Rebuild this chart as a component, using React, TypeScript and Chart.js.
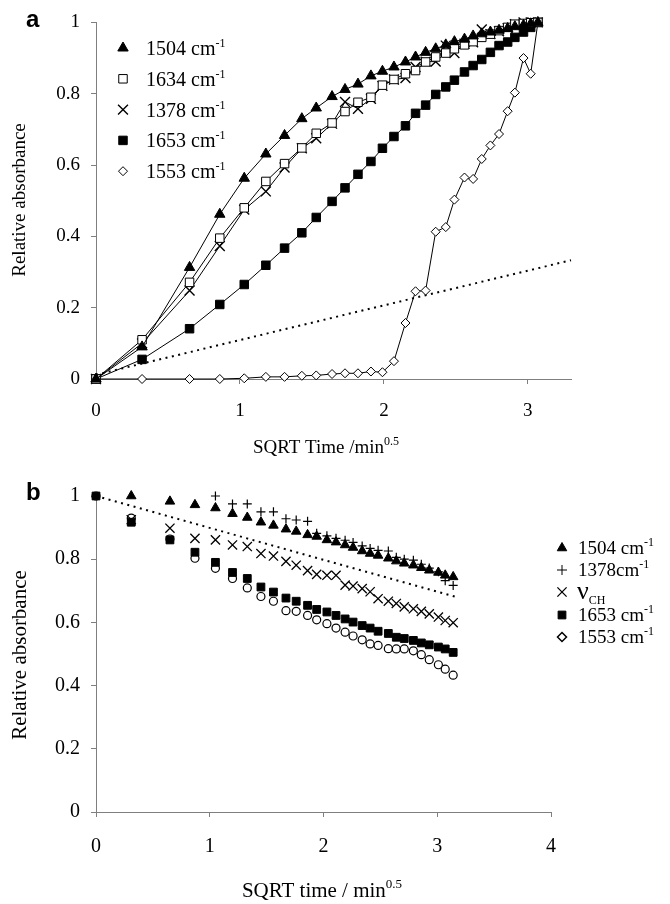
import React, { useEffect, useRef } from "react";
import { Chart, registerables } from "chart.js";
Chart.register(...registerables);

// ---------- Panel a data ----------
const xA = [0, 0.32, 0.65, 0.86, 1.03, 1.18, 1.31, 1.43, 1.53, 1.64, 1.73, 1.82, 1.91, 1.99, 2.07, 2.15, 2.22, 2.29, 2.36, 2.43, 2.49, 2.56, 2.62, 2.68, 2.74, 2.80, 2.86, 2.91, 2.97, 3.02, 3.07];
const a1504 = [0, 0.09, 0.313, 0.462, 0.563, 0.631, 0.683, 0.73, 0.76, 0.792, 0.812, 0.827, 0.85, 0.863, 0.875, 0.889, 0.903, 0.916, 0.926, 0.937, 0.946, 0.953, 0.962, 0.968, 0.973, 0.978, 0.983, 0.988, 0.992, 0.996, 1.0];
const a1634 = [0, 0.11, 0.271, 0.395, 0.48, 0.554, 0.604, 0.648, 0.689, 0.718, 0.75, 0.776, 0.79, 0.824, 0.84, 0.856, 0.865, 0.889, 0.903, 0.914, 0.926, 0.937, 0.946, 0.958, 0.967, 0.977, 0.986, 0.995, 0.997, 0.999, 1.0];
const a1378 = [0, 0.1, 0.248, 0.373, 0.475, 0.526, 0.593, 0.647, 0.675, 0.716, 0.777, 0.758, 0.786, 0.822, 0.84, 0.844, 0.875, 0.89, 0.89, 0.935, 0.914, 0.94, 0.944, 0.98, 0.967, 0.975, 0.984, 0.995, 1.0, 1.0, 1.0];
const a1653 = [0, 0.055, 0.141, 0.209, 0.265, 0.319, 0.367, 0.41, 0.453, 0.498, 0.536, 0.574, 0.61, 0.647, 0.68, 0.71, 0.745, 0.768, 0.798, 0.819, 0.838, 0.861, 0.879, 0.896, 0.916, 0.935, 0.945, 0.958, 0.973, 0.986, 1.0];
const a1553 = [0, 0, 0, 0, 0.002, 0.006, 0.006, 0.009, 0.01, 0.014, 0.016, 0.016, 0.021, 0.019, 0.05, 0.157, 0.246, 0.248, 0.413, 0.426, 0.503, 0.565, 0.561, 0.617, 0.655, 0.687, 0.751, 0.803, 0.9, 0.856, 1.0];
const aRefX = [0, 3.3];
const aRefY = [0.012, 0.333];
const xTicksA = [0, 1, 2, 3];

// ---------- Panel b data ----------
const xB = [0, 0.31, 0.65, 0.87, 1.05, 1.2, 1.33, 1.45, 1.56, 1.67, 1.76, 1.86, 1.94, 2.03, 2.11, 2.19, 2.26, 2.34, 2.41, 2.48, 2.57, 2.64, 2.71, 2.79, 2.86, 2.93, 3.01, 3.07, 3.14];
const b1504 = [null, 1.0, 0.983, 0.972, 0.962, 0.944, 0.932, 0.917, 0.907, 0.895, 0.888, 0.877, 0.872, 0.861, 0.854, 0.845, 0.837, 0.826, 0.818, 0.812, 0.803, 0.794, 0.787, 0.781, 0.773, 0.765, 0.758, 0.749, 0.744];
const b1378 = [null, null, null, null, 1.0, 0.975, 0.975, 0.95, 0.95, 0.928, 0.924, 0.92, 0.882, 0.874, 0.866, 0.86, 0.853, 0.842, 0.834, 0.828, 0.826, 0.806, 0.8, 0.797, 0.784, 0.772, 0.76, 0.732, 0.717];
const bCH = [null, 0.925, 0.898, 0.866, 0.861, 0.845, 0.84, 0.818, 0.81, 0.793, 0.781, 0.764, 0.752, 0.749, 0.749, 0.718, 0.715, 0.707, 0.697, 0.675, 0.667, 0.66, 0.649, 0.643, 0.635, 0.627, 0.617, 0.606, 0.599];
const b1653 = [1.0, 0.917, 0.861, 0.822, 0.79, 0.758, 0.739, 0.712, 0.696, 0.677, 0.667, 0.654, 0.641, 0.633, 0.622, 0.611, 0.601, 0.59, 0.582, 0.572, 0.565, 0.553, 0.549, 0.543, 0.535, 0.529, 0.522, 0.516, 0.505];
const b1553 = [1.0, 0.93, 0.864, 0.803, 0.771, 0.739, 0.709, 0.682, 0.667, 0.637, 0.635, 0.622, 0.608, 0.596, 0.582, 0.569, 0.557, 0.545, 0.532, 0.527, 0.517, 0.516, 0.516, 0.51, 0.498, 0.482, 0.466, 0.452, 0.433];
const bRefX = [0, 3.17];
const bRefY = [1.0, 0.68];
const xTicksB = [0, 1, 2, 3, 4];

const yTicks = [0, 0.2, 0.4, 0.6, 0.8, 1];

const legendA = ["1504", "1634", "1378", "1653", "1553"];
const legendB = ["1504", "1378", "CH", "1653", "1553"];

const SERIF = '"Liberation Serif", "Times New Roman", serif';
const SANS = '"Liberation Sans", Arial, sans-serif';
const AXIS = "#7f7f7f";

const W = 670;
const HA = 470;
const HB = 434;
const OFFB = 470;

type Pt = { x: number; y: number };
function pts(xs: number[], ys: (number | null)[]): Pt[] {
  const out: Pt[] = [];
  xs.forEach((x, i) => {
    const y = ys[i];
    if (y !== null && y !== undefined) out.push({ x, y });
  });
  return out;
}

function drawMarker(ctx: CanvasRenderingContext2D, style: string, x: number, y: number, r: number, filled: boolean, lw = 1) {
  ctx.save();
  ctx.beginPath();
  ctx.lineWidth = lw;
  ctx.strokeStyle = "#000";
  ctx.fillStyle = filled ? "#000" : "#fff";
  if (style === "triangle") {
    ctx.moveTo(x, y - r);
    ctx.lineTo(x + r * 0.866, y + r * 0.5);
    ctx.lineTo(x - r * 0.866, y + r * 0.5);
    ctx.closePath();
    ctx.fill();
    ctx.stroke();
  } else if (style === "rect") {
    const s = r * Math.SQRT1_2;
    ctx.rect(x - s, y - s, 2 * s, 2 * s);
    ctx.fill();
    ctx.stroke();
  } else if (style === "rectRot") {
    ctx.moveTo(x, y - r);
    ctx.lineTo(x + r, y);
    ctx.lineTo(x, y + r);
    ctx.lineTo(x - r, y);
    ctx.closePath();
    ctx.fill();
    ctx.stroke();
  } else if (style === "circle") {
    ctx.arc(x, y, r, 0, Math.PI * 2);
    ctx.fill();
    ctx.stroke();
  } else if (style === "cross") {
    ctx.moveTo(x - r, y);
    ctx.lineTo(x + r, y);
    ctx.moveTo(x, y - r);
    ctx.lineTo(x, y + r);
    ctx.stroke();
  } else if (style === "crossRot") {
    const s = r * Math.SQRT1_2;
    ctx.moveTo(x - s, y - s);
    ctx.lineTo(x + s, y + s);
    ctx.moveTo(x + s, y - s);
    ctx.lineTo(x - s, y + s);
    ctx.stroke();
  }
  ctx.restore();
}

type Run = { t: string; size: number; dy?: number; family?: string };
function drawRuns(ctx: CanvasRenderingContext2D, runs: Run[], x: number, y: number, align: "left" | "center") {
  ctx.save();
  ctx.fillStyle = "#000";
  ctx.textBaseline = "alphabetic";
  ctx.textAlign = "left";
  let w = 0;
  const widths = runs.map((r) => {
    ctx.font = `${r.size}px ${r.family || SERIF}`;
    const m = ctx.measureText(r.t).width;
    w += m;
    return m;
  });
  let cx = align === "center" ? x - w / 2 : x;
  runs.forEach((r, i) => {
    ctx.font = `${r.size}px ${r.family || SERIF}`;
    ctx.fillText(r.t, cx, y + (r.dy || 0));
    cx += widths[i];
  });
  ctx.restore();
}

function drawRotated(ctx: CanvasRenderingContext2D, text: string, cx: number, cy: number, size: number) {
  ctx.save();
  ctx.translate(cx, cy);
  ctx.rotate(-Math.PI / 2);
  ctx.font = `${size}px ${SERIF}`;
  ctx.fillStyle = "#000";
  ctx.textAlign = "center";
  ctx.textBaseline = "middle";
  ctx.fillText(text, 0, 0);
  ctx.restore();
}

function makeScales(o: { xmax: number; xticks: number[]; xh: number; tick: number; xpad: number }) {
  return {
    x: {
      type: "linear" as const,
      min: 0,
      max: o.xmax,
      afterBuildTicks: (s: any) => {
        s.ticks = o.xticks.map((v) => ({ value: v }));
      },
      afterFit: (s: any) => {
        s.height = o.xh;
      },
      ticks: {
        color: "#000",
        font: { family: SERIF, size: o.tick },
        padding: o.xpad,
        maxRotation: 0,
        autoSkip: false,
        callback: (v: any) => String(v),
      },
      grid: { drawOnChartArea: false, drawTicks: true, tickLength: 5, color: AXIS, lineWidth: 1 },
      border: { display: true, color: AXIS, width: 1 },
    },
    y: {
      type: "linear" as const,
      min: 0,
      max: 1,
      afterBuildTicks: (s: any) => {
        s.ticks = yTicks.map((v) => ({ value: v }));
      },
      afterFit: (s: any) => {
        s.width = 96;
      },
      ticks: {
        color: "#000",
        font: { family: SERIF, size: o.tick },
        padding: 11,
        autoSkip: false,
        callback: (v: any) => String(Math.round(Number(v) * 10) / 10),
      },
      grid: { drawOnChartArea: false, drawTicks: true, tickLength: 5, color: AXIS, lineWidth: 1 },
      border: { display: true, color: AXIS, width: 1 },
    },
  };
}

function series(data: Pt[], style: string, r: number, filled: boolean, showLine: boolean, lw = 1) {
  return {
    data,
    showLine,
    borderColor: "#000",
    borderWidth: 1,
    pointStyle: style,
    pointRadius: r,
    pointHoverRadius: r,
    pointBackgroundColor: filled ? "#000" : "#fff",
    pointBorderColor: "#000",
    pointBorderWidth: lw,
    clip: false as const,
  };
}

function refLine(data: Pt[]) {
  return {
    data,
    showLine: true,
    borderColor: "#000",
    borderWidth: 2,
    borderDash: [2, 4.5],
    pointRadius: 0,
    pointHoverRadius: 0,
    clip: false as const,
  };
}

const stylesA = [
  { s: "triangle", r: 6, f: true },
  { s: "rect", r: 6, f: false },
  { s: "crossRot", r: 7, f: false },
  { s: "rect", r: 6, f: true },
  { s: "rectRot", r: 4.5, f: false },
];

export default function App() {
  const refA = useRef<HTMLCanvasElement>(null);
  const refB = useRef<HTMLCanvasElement>(null);

  useEffect(() => {
    const dataA = [a1504, a1634, a1378, a1653, a1553];
    const chartA = new Chart(refA.current as HTMLCanvasElement, {
      type: "scatter",
      data: {
        datasets: [
          ...dataA.map((ys, i) => series(pts(xA, ys), stylesA[i].s, stylesA[i].r, stylesA[i].f, true, stylesA[i].s === "crossRot" ? 1.4 : 1)),
          refLine(pts(aRefX, aRefY)),
        ] as any,
      },
      options: {
        animation: false,
        responsive: false,
        devicePixelRatio: 1,
        events: [],
        layout: { padding: { left: 0, top: 20, right: 99, bottom: 0 } },
        plugins: { legend: { display: false }, tooltip: { enabled: false } },
        scales: makeScales({ xmax: 3.3, xticks: xTicksA, xh: HA - 379, tick: 19, xpad: 16 }) as any,
      },
      plugins: [
        {
          id: "decorA",
          afterDraw(chart: any) {
            const ctx = chart.ctx as CanvasRenderingContext2D;
            ctx.save();
            ctx.font = `bold 24px ${SANS}`;
            ctx.fillStyle = "#000";
            ctx.textBaseline = "alphabetic";
            ctx.fillText("a", 26, 27);
            ctx.restore();
            drawRuns(ctx, [
              { t: "SQRT Time /min", size: 19 },
              { t: "0.5", size: 12, dy: -8 },
            ], 326, 453, "center");
            drawRotated(ctx, "Relative absorbance", 20, 200, 19);
            legendA.forEach((lab, i) => {
              const y = 48 + i * 30.8;
              const st = stylesA[i];
              drawMarker(ctx, st.s, 123, y, st.r, st.f, st.s === "crossRot" ? 1.4 : 1);
              drawRuns(ctx, [
                { t: lab + " cm", size: 20 },
                { t: "-1", size: 12, dy: -8 },
              ], 146, y + 7, "left");
            });
          },
        },
      ],
    });

    const stylesB = [
      { s: "triangle", r: 5.5, f: true, lw: 1 },
      { s: "cross", r: 4.5, f: false, lw: 1.2 },
      { s: "crossRot", r: 6.5, f: false, lw: 1.3 },
      { s: "rect", r: 5.5, f: true, lw: 1 },
      { s: "circle", r: 4, f: false, lw: 1.2 },
    ];
    const dataB = [b1504, b1378, bCH, b1653, b1553];
    const chartB = new Chart(refB.current as HTMLCanvasElement, {
      type: "scatter",
      data: {
        datasets: [
          ...dataB.map((ys, i) => series(pts(xB, ys), stylesB[i].s, stylesB[i].r, stylesB[i].f, false, stylesB[i].lw)),
          refLine(pts(bRefX, bRefY)),
        ] as any,
      },
      options: {
        animation: false,
        responsive: false,
        devicePixelRatio: 1,
        events: [],
        layout: { padding: { left: 0, top: 496 - OFFB, right: W - 551, bottom: 0 } },
        plugins: { legend: { display: false }, tooltip: { enabled: false } },
        scales: makeScales({ xmax: 4, xticks: xTicksB, xh: HB - (812 - OFFB), tick: 20, xpad: 18 }) as any,
      },
      plugins: [
        {
          id: "decorB",
          afterDraw(chart: any) {
            const ctx = chart.ctx as CanvasRenderingContext2D;
            ctx.save();
            ctx.font = `bold 24px ${SANS}`;
            ctx.fillStyle = "#000";
            ctx.textBaseline = "alphabetic";
            ctx.fillText("b", 26, 500 - OFFB);
            ctx.restore();
            drawRuns(ctx, [
              { t: "SQRT time / min", size: 21 },
              { t: "0.5", size: 13, dy: -9 },
            ], 322, 897 - OFFB, "center");
            drawRotated(ctx, "Relative absorbance", 20, 655 - OFFB, 21);
            const legendMarkers = [
              { s: "triangle", r: 5.5, f: true, lw: 1 },
              { s: "cross", r: 5, f: false, lw: 1 },
              { s: "crossRot", r: 6.5, f: false, lw: 1.3 },
              { s: "rect", r: 5.5, f: true, lw: 1 },
              { s: "rectRot", r: 4.5, f: false, lw: 1.5 },
            ];
            const rows = [548, 570, 592, 615, 637];
            legendB.forEach((lab, i) => {
              const y = rows[i] - OFFB;
              const m = legendMarkers[i];
              drawMarker(ctx, m.s, 562, y, m.r, m.f, m.lw);
              if (lab === "CH") {
                drawRuns(ctx, [
                  { t: "\u03BD", size: 26, family: SERIF },
                  { t: "CH", size: 12, dy: 5 },
                ], 577, y + 7, "left");
              } else {
                const base = lab === "1378" ? lab + "cm" : lab + " cm";
                drawRuns(ctx, [
                  { t: base, size: 19 },
                  { t: "-1", size: 12, dy: -8 },
                ], 578, y + 6, "left");
              }
            });
          },
        },
      ],
    });

    return () => {
      chartA.destroy();
      chartB.destroy();
    };
  }, []);

  return (
    <div style={{ position: "absolute", left: 0, top: 0, width: W, height: 904, background: "#fff" }}>
      <canvas ref={refA} width={W} height={HA} style={{ position: "absolute", left: 0, top: 0, width: W, height: HA }} />
      <canvas ref={refB} width={W} height={HB} style={{ position: "absolute", left: 0, top: OFFB, width: W, height: HB }} />
    </div>
  );
}
